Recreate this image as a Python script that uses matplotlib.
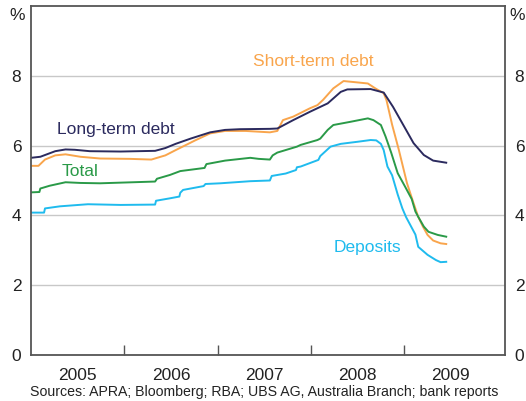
import matplotlib.pyplot as plt
from matplotlib.ticker import FixedLocator, NullFormatter

plt.rcParams['font.family'] = ['Liberation Sans', 'DejaVu Sans']

# data (x in decimal years, y in per cent)
long_x = [2005.00, 2005.10, 2005.26, 2005.37, 2005.47, 2005.63, 2005.96, 2006.33,
          2006.44, 2006.55, 2006.71, 2006.92, 2007.08, 2007.24, 2007.56, 2007.64,
          2007.81, 2007.99, 2008.18, 2008.32, 2008.39, 2008.64, 2008.78, 2008.88,
          2008.99, 2009.10, 2009.21, 2009.31, 2009.45]
long_y = [5.65, 5.68, 5.84, 5.89, 5.88, 5.84, 5.83, 5.85,
          5.93, 6.05, 6.20, 6.38, 6.45, 6.47, 6.48, 6.49,
          6.73, 6.97, 7.21, 7.54, 7.61, 7.62, 7.52, 7.11,
          6.59, 6.07, 5.73, 5.57, 5.51]

short_x = [2005.00, 2005.08, 2005.15, 2005.26, 2005.37, 2005.53, 2005.74, 2006.06,
           2006.29, 2006.44, 2006.55, 2006.76, 2006.92, 2007.08, 2007.30, 2007.56,
           2007.64, 2007.70, 2007.81, 2007.99, 2008.07, 2008.13, 2008.24, 2008.35,
           2008.50, 2008.61, 2008.69, 2008.78, 2008.81, 2008.87, 2008.94, 2009.03,
           2009.10, 2009.15, 2009.20, 2009.25, 2009.31, 2009.39, 2009.45]
short_y = [5.42, 5.42, 5.60, 5.72, 5.75, 5.68, 5.63, 5.62,
           5.60, 5.72, 5.87, 6.15, 6.35, 6.42, 6.42, 6.38,
           6.42, 6.73, 6.83, 7.07, 7.16, 7.31, 7.64, 7.85,
           7.81, 7.78, 7.64, 7.50, 7.30, 6.60, 5.90, 4.92,
           4.35, 3.96, 3.68, 3.44, 3.28, 3.20, 3.18]

total_x = [2005.00, 2005.09, 2005.10, 2005.20, 2005.37, 2005.53, 2005.74, 2006.33,
           2006.35, 2006.49, 2006.60, 2006.86, 2006.88, 2007.08, 2007.35, 2007.44,
           2007.56, 2007.59, 2007.64, 2007.85, 2007.89, 2008.07, 2008.10, 2008.18,
           2008.24, 2008.42, 2008.61, 2008.67, 2008.75, 2008.80, 2008.86, 2008.93,
           2009.01, 2009.08, 2009.12, 2009.15, 2009.21, 2009.26, 2009.36, 2009.45]
total_y = [4.66, 4.67, 4.77, 4.85, 4.95, 4.93, 4.92, 4.97,
           5.05, 5.16, 5.27, 5.36, 5.47, 5.57, 5.65, 5.62,
           5.60, 5.72, 5.80, 5.97, 6.02, 6.16, 6.20, 6.45,
           6.59, 6.68, 6.78, 6.73, 6.59, 6.26, 5.80, 5.21,
           4.82, 4.47, 4.11, 3.96, 3.68, 3.53, 3.44, 3.39]

dep_x = [2005.00, 2005.14, 2005.15, 2005.31, 2005.61, 2005.96, 2006.33, 2006.34,
         2006.49, 2006.59, 2006.60, 2006.63, 2006.85, 2006.87, 2007.03, 2007.35,
         2007.56, 2007.58, 2007.73, 2007.84, 2007.85, 2007.89, 2008.08, 2008.10,
         2008.21, 2008.32, 2008.50, 2008.64, 2008.70, 2008.75, 2008.78, 2008.82,
         2008.87, 2008.93, 2008.98, 2009.02, 2009.09, 2009.12, 2009.15, 2009.25,
         2009.34, 2009.39, 2009.45]
dep_y = [4.08, 4.08, 4.20, 4.26, 4.32, 4.30, 4.31, 4.42,
         4.49, 4.54, 4.65, 4.73, 4.84, 4.90, 4.92, 4.98,
         5.00, 5.13, 5.20, 5.30, 5.38, 5.40, 5.59, 5.70,
         5.97, 6.05, 6.11, 6.16, 6.15, 6.05, 5.87, 5.40,
         5.15, 4.60, 4.20, 3.95, 3.60, 3.45, 3.10, 2.87,
         2.72, 2.66, 2.67]

years = [2005, 2006, 2007, 2008, 2009]
y_ticks = [0, 2, 4, 6, 8]

c_long = '#2b2a5e'
c_short = '#f9a54c'
c_total = '#2a9a48'
c_dep = '#1fbbee'
axis_col = '#555555'

fig = plt.figure(figsize=(5.26, 4.01), dpi=100)
ax = fig.add_axes([31 / 526, 46 / 401, 474 / 526, 349 / 401])

ax.plot(short_x, short_y, color=c_short, lw=1.4)
ax.plot(long_x, long_y, color=c_long, lw=1.4)
ax.plot(total_x, total_y, color=c_total, lw=1.4)
ax.plot(dep_x, dep_y, color=c_dep, lw=1.4)

ax.set_xlim(2005, 2010.08)
ax.set_ylim(0, 10)

ax.set_yticks(y_ticks)
ax.yaxis.grid(True, color='#c8c8c8', lw=1)
ax.set_axisbelow(True)
ax.tick_params(axis='y', length=0, labelsize=12.5, labelright=True,
               pad=7, colors='#222222')

ax.xaxis.set_major_locator(FixedLocator([y + 1 for y in years[:-1]]))
ax.xaxis.set_major_formatter(NullFormatter())
ax.xaxis.set_minor_locator(FixedLocator([y + 0.5 for y in years]))
ax.set_xticklabels([str(y) for y in years], minor=True)
ax.tick_params(axis='x', which='major', direction='in', length=7,
               color=axis_col, width=1)
ax.tick_params(axis='x', which='minor', length=0, labelsize=12.5,
               pad=9, colors='#222222')

for side in ['left', 'right', 'bottom', 'top']:
    ax.spines[side].set_color(axis_col)
    ax.spines[side].set_linewidth(1.3)

ax.text(2008.02, 8.4, 'Short-term debt', color=c_short, fontsize=12.5,
        ha='center', va='center')
ax.text(2005.91, 6.45, 'Long-term debt', color=c_long, fontsize=12.5,
        ha='center', va='center')
ax.text(2005.53, 5.27, 'Total', color=c_total, fontsize=12.5,
        ha='center', va='center')
ax.text(2008.61, 3.07, 'Deposits', color=c_dep, fontsize=12.5,
        ha='center', va='center')

fig.text(17 / 526, 1 - 16 / 401, '%', fontsize=12.5, ha='center',
         va='center', color='#222222')
fig.text(517 / 526, 1 - 16 / 401, '%', fontsize=12.5, ha='center',
         va='center', color='#222222')
fig.text(30 / 526, 1 - 392 / 401,
         'Sources: APRA; Bloomberg; RBA; UBS AG, Australia Branch; bank reports',
         fontsize=10.2, ha='left', va='center', color='#222222')

fig.savefig('out.png', dpi=100)
